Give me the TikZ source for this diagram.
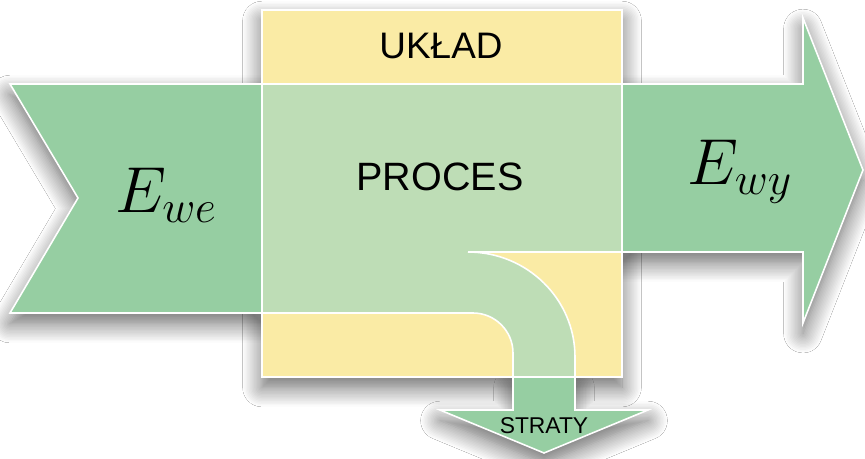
\RequirePackage{fix-cm}
\documentclass[tikz,border=0pt]{standalone}
\usepackage{fontspec}
\newfontfamily\arial{Liberation Sans}
\usetikzlibrary{shadows.blur}

\definecolor{zielony}{RGB}{150,206,162}
\definecolor{jasnyziel}{RGB}{190,221,182}
\definecolor{zolty}{RGB}{250,235,165}

% obrysy ksztaltow (wspolrzedne w pikselach)
\def\wejscie{(10,84) -- (262,84) -- (262,313) -- (10,313) -- (78,198) -- cycle}
\def\wyjscie{(622,84) -- (803,84) -- (803,18) -- (863,170) -- (803,323) -- (803,252) -- (622,252) -- cycle}
\def\uklad{(262,10) rectangle (622,377)}
\def\przeplyw{(262,84) -- (622,84) -- (622,252) -- (468,252)
  .. controls (527,252) and (575,299) .. (575,357) -- (575,377) -- (513,377) -- (513,353)
  .. controls (513,331) and (495,313) .. (473,313) -- (262,313) -- cycle}
\def\straty{(513,377) -- (575,377) -- (575,410) -- (648,410) -- (544,453) -- (440,410) -- (513,410) -- cycle}

\begin{document}
\begin{tikzpicture}[x=0.02cm, y=-0.02cm, line join=miter,
      pole/.style={draw=white, line width=0.9pt},
      cien/.style={blur shadow={shadow xshift=0pt, shadow yshift=-6pt,
        shadow blur radius=11pt, shadow opacity=60, shadow blur steps=14}},
      napis/.style={inner sep=0pt, text=black}]
  \useasboundingbox[fill=white] (0,0) rectangle (865,459);
  % cienie pod calym rysunkiem
  \fill[cien, white] \uklad;
  \fill[cien, white] \wejscie;
  \fill[cien, white] \wyjscie;
  \fill[cien, white] \straty;
  % uklad i proces
  \path[pole, fill=zolty] \uklad;
  \path[pole, fill=jasnyziel] \przeplyw;
  % strumienie energii
  \path[pole, fill=zielony] \wejscie;
  \path[pole, fill=zielony] \wyjscie;
  \path[pole, fill=zielony] \straty;
  % napisy
  \node[napis, font=\arial\fontsize{21}{22}\selectfont] (ukl) at (441,46) {UKŁAD};
  \node[napis, font=\arial\fontsize{22.5}{24}\selectfont] (proc) at (440,177) {PROCES};
  \node[napis, font=\arial\fontsize{13}{14}\selectfont] (str) at (544,426) {STRATY};
  \node[napis, anchor=base, font=\fontsize{37}{38}\selectfont] (ewe) at (166,213) {$E_{we}$};
  \node[napis, anchor=base, font=\fontsize{37}{38}\selectfont] (ewy) at (740,185) {$E_{wy}$};
\end{tikzpicture}
\end{document}
